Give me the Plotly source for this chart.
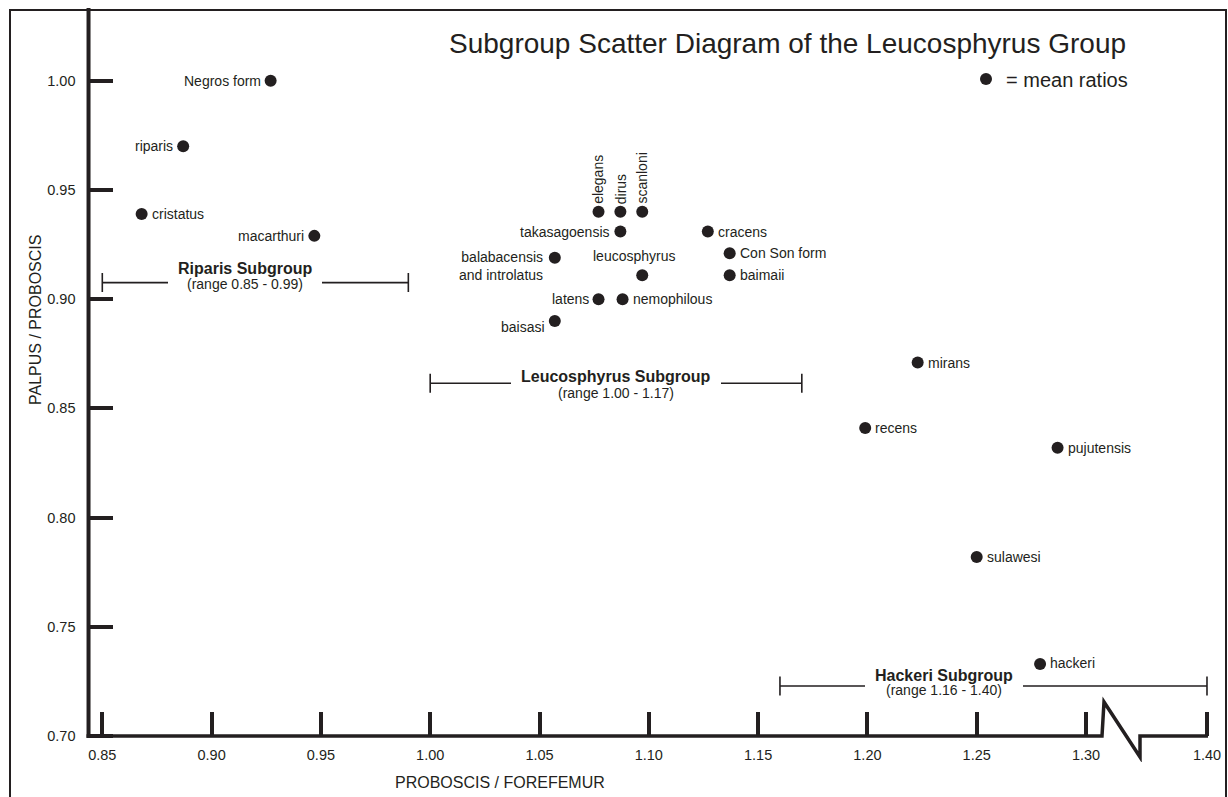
import plotly.graph_objects as go

# ---------------- data ----------------
species = ["Negros form", "riparis", "cristatus", "macarthuri",
           "elegans", "dirus", "scanloni", "takasagoensis", "cracens",
           "Con Son form", "baimaii", "balabacensis<br>and introlatus",
           "leucosphyrus", "latens", "nemophilous", "baisasi",
           "mirans", "recens", "pujutensis", "sulawesi", "hackeri"]
proboscis_forefemur = [0.927, 0.887, 0.868, 0.947,
                       1.077, 1.087, 1.097, 1.087, 1.127,
                       1.137, 1.137, 1.057,
                       1.097, 1.077, 1.088, 1.057,
                       1.223, 1.199, 1.287, 1.250, 1.279]
palpus_proboscis = [1.000, 0.970, 0.939, 0.929,
                    0.940, 0.940, 0.940, 0.931, 0.931,
                    0.921, 0.911, 0.919,
                    0.911, 0.900, 0.900, 0.890,
                    0.871, 0.841, 0.832, 0.782, 0.733]

subgroups = ["Riparis Subgroup", "Leucosphyrus Subgroup", "Hackeri Subgroup"]
range_low = [0.85, 1.00, 1.16]
range_high = [0.99, 1.17, 1.40]

x_tick_values = [0.85, 0.90, 0.95, 1.00, 1.05, 1.10, 1.15, 1.20, 1.25, 1.30, 1.40]
y_tick_values = [0.70, 0.75, 0.80, 0.85, 0.90, 0.95, 1.00]

# ---------------- axis break (1.30 -> 1.40 compressed) ----------------
BREAK_AT = 1.30
BREAK_SCALE = 0.5535


def xmap(v):
    return v if v <= BREAK_AT else BREAK_AT + (v - BREAK_AT) * BREAK_SCALE


# ---------------- layout geometry ----------------
FIG_W, FIG_H = 1228, 797
ML, MR, MT, MB = 80, 12, 8, 35
PW, PH = FIG_W - ML - MR, FIG_H - MT - MB
X_RANGE = [0.8398, 0.8398 + PW / 2186]
Y_RANGE = [0.6881, 0.6881 + PH / 2184]
X_AXIS_Y = 0.70          # where the horizontal axis sits
Y_AXIS_X = 0.8437        # where the vertical axis sits


def px_x(px):
    return (px - ML) / PW


def px_y(py):
    return (FIG_H - MB - py) / PH


INK = "#231f20"
FONT = "Liberation Sans, Arial, Helvetica, sans-serif"

# label placement: (side, dx, dy)
placement = {
    "Negros form": ("left", 0, 0), "riparis": ("left", 0, 0),
    "cristatus": ("right", 0, 0), "macarthuri": ("left", 0, 0),
    "elegans": ("up", 0, 0), "dirus": ("up", 0, 0), "scanloni": ("up", 0, 0),
    "takasagoensis": ("left", 0, 0), "cracens": ("right", 0, 0),
    "Con Son form": ("right", 0, 0), "baimaii": ("right", 0, 0),
    "balabacensis<br>and introlatus": ("left", -2, -8),
    "leucosphyrus": ("above", -8, 19), "latens": ("left", 0, 0),
    "nemophilous": ("right", 0, 0), "baisasi": ("left", 0, -6),
    "mirans": ("right", 0, 0), "recens": ("right", 0, 0),
    "pujutensis": ("right", 0, 0), "sulawesi": ("right", 0, 0),
    "hackeri": ("right", 0, 1),
}
LABEL_GAP = 10

BRACKET_Y = [0.9076, 0.8615, 0.7229]
TITLE_DY = [14, 7, 11]
SUB_DY = [-1, -10, -4]
TEXT_DX = [-10, 0, -49]

fig = go.Figure()

# subgroup range brackets (error bars give the end caps)
for i, name in enumerate(subgroups):
    lo, hi = xmap(range_low[i]), xmap(range_high[i])
    mid = (lo + hi) / 2
    fig.add_trace(go.Scatter(
        x=[mid], y=[BRACKET_Y[i]], mode="markers",
        marker=dict(size=1, color="rgba(0,0,0,0)"),
        error_x=dict(type="data", symmetric=False, array=[hi - mid],
                     arrayminus=[mid - lo], color=INK, thickness=1.6, width=9.5),
        showlegend=False, hoverinfo="skip"))

# the mean-ratio points
fig.add_trace(go.Scatter(
    x=[xmap(v) for v in proboscis_forefemur], y=palpus_proboscis,
    mode="markers", name="= mean ratios",
    marker=dict(size=12, color=INK, line=dict(width=0)),
    text=species, hoverinfo="text", showlegend=True))

annotations = []
for name, xv, yv in zip(species, proboscis_forefemur, palpus_proboscis):
    side, dx, dy = placement[name]
    a = dict(x=xmap(xv), y=yv, xref="x", yref="y", text=name, showarrow=False,
             font=dict(family=FONT, size=14, color=INK), borderpad=0, borderwidth=0)
    if side == "left":
        a.update(xanchor="right", yanchor="middle", xshift=-LABEL_GAP + dx, yshift=dy, align="right")
    elif side == "right":
        a.update(xanchor="left", yanchor="middle", xshift=LABEL_GAP + dx, yshift=dy)
    elif side == "up":
        a.update(xanchor="center", yanchor="bottom", textangle=-90, yshift=8 + dy, xshift=dx)
    else:
        a.update(xanchor="center", yanchor="middle", xshift=dx, yshift=dy)
    annotations.append(a)

for i, name in enumerate(subgroups):
    mid = (xmap(range_low[i]) + xmap(range_high[i])) / 2
    annotations.append(dict(
        x=mid, y=BRACKET_Y[i], xref="x", yref="y", text="<b>%s</b>" % name,
        showarrow=False, xanchor="center", yanchor="middle",
        xshift=TEXT_DX[i], yshift=TITLE_DY[i], bgcolor="white", borderpad=10, borderwidth=0,
        font=dict(family=FONT, size=16, color=INK)))
    annotations.append(dict(
        x=mid, y=BRACKET_Y[i], xref="x", yref="y",
        text="(range %.2f - %.2f)" % (range_low[i], range_high[i]),
        showarrow=False, xanchor="center", yanchor="middle",
        xshift=TEXT_DX[i], yshift=SUB_DY[i], borderpad=0, borderwidth=0,
        font=dict(family=FONT, size=14, color=INK)))

# title and axis titles
annotations.append(dict(x=px_x(787), y=px_y(44), xref="paper", yref="paper",
                        text="Subgroup Scatter Diagram of the Leucosphyrus Group",
                        showarrow=False, xanchor="center", yanchor="middle",
                        font=dict(family=FONT, size=28, color=INK)))
annotations.append(dict(x=px_x(500), y=px_y(783), xref="paper", yref="paper",
                        text="PROBOSCIS / FOREFEMUR", showarrow=False,
                        xanchor="center", yanchor="middle",
                        font=dict(family=FONT, size=16, color=INK)))
annotations.append(dict(x=px_x(35), y=px_y(320), xref="paper", yref="paper",
                        text="PALPUS / PROBOSCIS", showarrow=False, textangle=-90,
                        xanchor="center", yanchor="middle",
                        font=dict(family=FONT, size=16, color=INK)))

# axis lines (x axis with a break between 1.30 and 1.40)
ux = 1 / 2186
uy = 1 / 2184
x_end = xmap(1.40) + 1 * ux
b0 = BREAK_AT + 16 * ux
path = ("M {a},{y0} L {b},{y0} L {c},{yt} L {d},{yb} L {d},{y0} L {e},{y0}".format(
    a=Y_AXIS_X - 2 * ux, b=b0, c=b0 + 2 * ux, d=b0 + 38 * ux, e=x_end,
    y0=X_AXIS_Y, yt=X_AXIS_Y + 34 * uy, yb=X_AXIS_Y - 21 * uy))
shapes = [
    dict(type="path", xref="x", yref="y", path=path,
         line=dict(color=INK, width=3.5)),
    dict(type="line", xref="x", yref="y", x0=Y_AXIS_X, x1=Y_AXIS_X,
         y0=X_AXIS_Y - 2 * uy, y1=Y_RANGE[1], line=dict(color=INK, width=4)),
    # outer frame
    dict(type="rect", xref="paper", yref="paper", x0=px_x(10), x1=px_x(1226),
         y0=px_y(805), y1=px_y(10), line=dict(color=INK, width=2)),
]

fig.update_layout(
    width=FIG_W, height=FIG_H, template="none",
    margin=dict(l=ML, r=MR, t=MT, b=MB, pad=0),
    paper_bgcolor="white", plot_bgcolor="white",
    font=dict(family=FONT, color=INK),
    annotations=annotations, shapes=shapes,
    showlegend=True,
    legend=dict(x=px_x(966), y=px_y(79), xanchor="left", yanchor="middle",
                bgcolor="rgba(0,0,0,0)", borderwidth=0,
                font=dict(family=FONT, size=20, color=INK)),
    xaxis=dict(range=X_RANGE, anchor="free",
               position=(X_AXIS_Y - Y_RANGE[0]) / (Y_RANGE[1] - Y_RANGE[0]),
               tickmode="array", tickvals=[xmap(v) for v in x_tick_values],
               ticktext=["%.2f" % v for v in x_tick_values],
               ticks="inside", ticklen=24, tickwidth=4, tickcolor=INK,
               showline=False, showgrid=False, zeroline=False,
               ticklabelstandoff=8,
               tickfont=dict(family=FONT, size=14.5, color=INK)),
    yaxis=dict(range=Y_RANGE, anchor="free",
               position=(Y_AXIS_X - X_RANGE[0]) / (X_RANGE[1] - X_RANGE[0]),
               tickmode="array", tickvals=y_tick_values,
               ticktext=["%.2f" % v for v in y_tick_values],
               ticks="inside", ticklen=23, tickwidth=4, tickcolor=INK,
               showline=False, showgrid=False, zeroline=False,
               ticklabelstandoff=13,
               tickfont=dict(family=FONT, size=14.5, color=INK)),
)

fig.write_html("out.html", config={"displayModeBar": False},
               post_script="document.body.style.margin='0px';"
                           "document.body.style.overflow='hidden';")
